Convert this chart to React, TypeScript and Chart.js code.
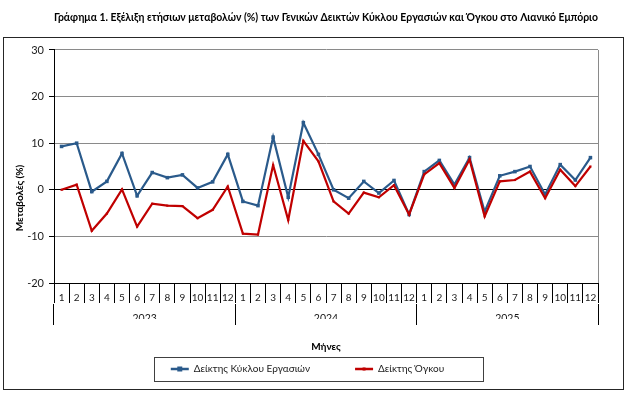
import React, { useEffect, useRef } from 'react';
import { Chart, registerables } from 'chart.js';

Chart.register(...registerables);

const chartTitle = 'Γράφημα 1. Εξέλιξη ετήσιων μεταβολών (%) των Γενικών Δεικτών Κύκλου Εργασιών και Όγκου στο Λιανικό Εμπόριο';
const yAxisTitle = 'Μεταβολές (%)';
const xAxisTitle = 'Μήνες';

const monthLabels = [
  '1', '2', '3', '4', '5', '6', '7', '8', '9', '10', '11', '12',
  '1', '2', '3', '4', '5', '6', '7', '8', '9', '10', '11', '12',
  '1', '2', '3', '4', '5', '6', '7', '8', '9', '10', '11', '12',
];
const yearLabels = ['2023', '2024', '2025'];

const seriesNames = ['Δείκτης Κύκλου Εργασιών', 'Δείκτης Όγκου'];

const turnoverValues = [
  9.3, 10.0, -0.4, 1.8, 7.8, -1.3, 3.7, 2.6, 3.2, 0.4, 1.7, 7.6,
  -2.5, -3.4, 11.3, -1.6, 14.4, 7.6, 0.0, -1.8, 1.8, -0.7, 2.0, -5.3,
  3.9, 6.3, 1.1, 6.9, -4.7, 3.0, 3.9, 5.0, -1.0, 5.4, 2.1, 6.9,
];
const volumeValues = [
  0.0, 1.1, -8.8, -5.1, 0.1, -7.9, -3.0, -3.4, -3.5, -6.1, -4.3, 0.7,
  -9.4, -9.6, 5.3, -6.5, 10.5, 6.1, -2.5, -5.1, -0.6, -1.6, 1.0, -5.3,
  3.3, 5.7, 0.4, 6.5, -5.7, 1.8, 2.1, 3.9, -1.8, 4.3, 0.8, 5.0,
];

const yMin = -20;
const yMax = 30;
const yStep = 10;

const FONT = 'Lato, "Open Sans", "Noto Sans", sans-serif';
const BLUE = '#2A5A8B';
const RED = '#C00000';

const decorPlugin = {
  id: 'decor',
  afterDraw(chart: any) {
    const ctx = chart.ctx as CanvasRenderingContext2D;
    ctx.save();
    // outer frame
    ctx.strokeStyle = '#262626';
    ctx.lineWidth = 1;
    ctx.strokeRect(3.5, 37.5, 620, 352);

    // y axis title
    ctx.save();
    ctx.translate(20, 198);
    ctx.rotate(-Math.PI / 2);
    ctx.font = `bold 10px ${FONT}`;
    ctx.textAlign = 'center';
    ctx.textBaseline = 'middle';
    ctx.fillStyle = '#000';
    ctx.fillText(yAxisTitle, 0, 0);
    ctx.restore();

    // legend frame and markers
    const lg = chart.legend;
    if (lg && lg.legendHitBoxes && lg.legendHitBoxes.length) {
      const hb = lg.legendHitBoxes;
      const first = hb[0];
      const last = hb[hb.length - 1];
      ctx.strokeStyle = '#404040';
      ctx.lineWidth = 1;
      const l = Math.round(first.left - 17) + 0.5;
      const r = Math.round(last.left + last.width + 39) + 0.5;
      const t = Math.round(first.top - 7) + 0.5;
      const b = Math.round(first.top + first.height + 7) + 0.5;
      ctx.strokeRect(l, t, r - l, b - t);
      const bw = lg.options.labels.boxWidth;
      hb.forEach((h: any, i: number) => {
        const item = lg.legendItems[i];
        const ds = chart.data.datasets[item.datasetIndex];
        const s = ds.pointRadius * 2;
        ctx.fillStyle = ds.borderColor;
        ctx.fillRect(h.left + bw / 2 - s / 2, h.top + h.height / 2 - s / 2, s, s);
      });
    }
    ctx.restore();
  },
};

export default function App() {
  const ref = useRef<HTMLCanvasElement>(null);

  useEffect(() => {
    if (!ref.current) return;
    const chart = new Chart(ref.current, {
      type: 'line',
      data: {
        labels: monthLabels,
        datasets: [
          {
            label: seriesNames[0],
            data: turnoverValues,
            borderColor: BLUE,
            backgroundColor: BLUE,
            borderWidth: 2.2,
            pointStyle: 'rect',
            pointRadius: 2.5,
            pointBorderWidth: 0,
            tension: 0,
            order: 1,
          },
          {
            label: seriesNames[1],
            data: volumeValues,
            borderColor: RED,
            backgroundColor: RED,
            borderWidth: 2.2,
            pointStyle: 'rect',
            pointRadius: 1.5,
            pointBorderWidth: 0,
            tension: 0,
            order: 0,
          },
        ],
      },
      options: {
        responsive: false,
        animation: false,
        devicePixelRatio: 1,
        layout: { padding: { left: 17, right: 38, top: 0, bottom: 13 } },
        plugins: {
          tooltip: { enabled: false },
          title: {
            display: true,
            text: chartTitle,
            fullSize: false,
            color: '#000',
            font: { family: FONT, size: 10.8, weight: 'bold', lineHeight: 1.2 },
            padding: { top: 11.5, bottom: 25.5 },
          },
          legend: {
            display: true,
            position: 'bottom',
            labels: {
              boxWidth: 18,
              boxHeight: 2.5,
              padding: 45,
              color: '#1a1a1a',
              font: { family: FONT, size: 10 },
              sort: (a: any, b: any) => a.datasetIndex - b.datasetIndex,
              generateLabels: (c: any) =>
                (Chart.defaults.plugins.legend.labels.generateLabels as any)(c).map((l: any) => ({ ...l, lineWidth: 0 })),
            },
          },
        },
        scales: {
          x: {
            type: 'category',
            position: 'bottom',
            weight: 0,
            offset: true,
            afterFit: (s: any) => { s.height = 21; },
            grid: {
              display: true,
              offset: true,
              drawOnChartArea: true,
              drawTicks: true,
              tickLength: 20,
              color: (c: any) => (c.type === 'tick' ? 'rgba(0,0,0,0)' : '#8a8a8a'),
              tickColor: '#000',
              lineWidth: 1,
            },
            border: { display: true, color: '#000', width: 1 },
            ticks: {
              padding: -11,
              autoSkip: false,
              maxRotation: 0,
              color: '#1a1a1a',
              font: { family: FONT, size: 10 },
            },
          },
          x2: {
            type: 'category',
            position: 'bottom',
            weight: 1,
            labels: yearLabels,
            offset: true,
            afterFit: (s: any) => { s.height = 15; },
            grid: {
              display: true,
              offset: true,
              drawOnChartArea: false,
              drawTicks: true,
              tickLength: 21,
              color: '#000',
              tickColor: '#000',
            },
            border: { display: false },
            ticks: {
              padding: -12.3,
              autoSkip: false,
              maxRotation: 0,
              color: '#1a1a1a',
              font: { family: FONT, size: 10.5 },
            },
            title: {
              display: true,
              text: xAxisTitle,
              color: '#000',
              font: { family: FONT, size: 10, weight: 'bold', lineHeight: 1.2 },
              padding: { top: 15, bottom: -33.5 },
            },
          },
          y: {
            type: 'linear',
            position: 'left',
            min: yMin,
            max: yMax,
            afterFit: (s: any) => { s.width = 37; },
            grid: {
              display: true,
              drawTicks: true,
              tickLength: 5,
              color: (c: any) => (c.tick && (c.tick.value === 0 || c.tick.value === yMin) ? '#000' : '#8a8a8a'),
              tickColor: '#000',
              lineWidth: 1,
            },
            border: { display: true, color: '#000', width: 1 },
            ticks: {
              stepSize: yStep,
              padding: 5,
              color: '#1a1a1a',
              font: { family: FONT, size: 11 },
            },
          },
        },
      },
      plugins: [decorPlugin],
    } as any);
    return () => chart.destroy();
  }, []);

  return (
    <div style={{ position: 'absolute', left: 0, top: 0, width: 636, height: 397, background: '#fff' }}>
      <canvas ref={ref} width={636} height={397} style={{ display: 'block' }} />
    </div>
  );
}
